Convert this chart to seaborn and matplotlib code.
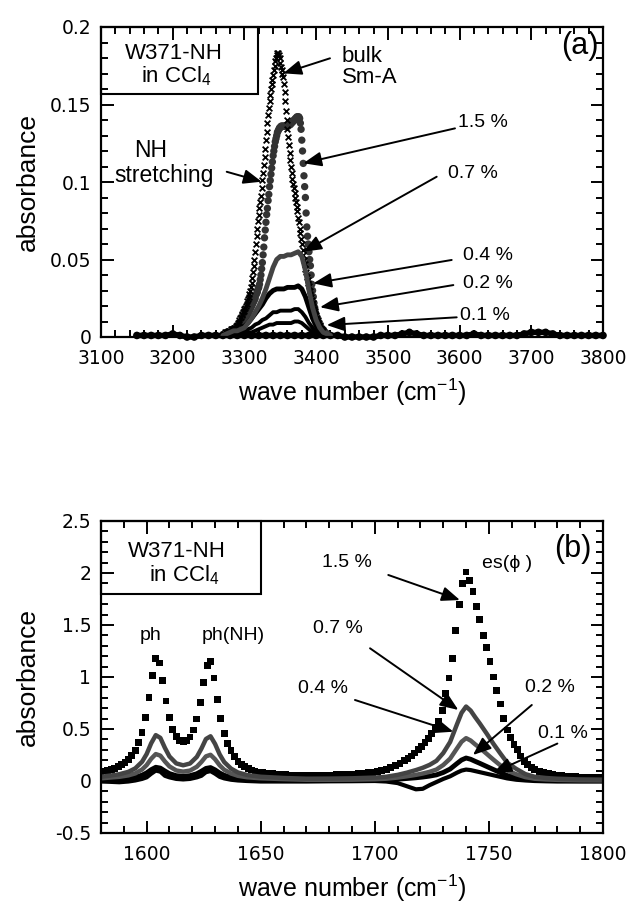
import numpy as np
import pandas as pd
import matplotlib
matplotlib.use("Agg")
import matplotlib.pyplot as plt
import seaborn as sns
from matplotlib.patches import Rectangle
from matplotlib.ticker import MultipleLocator, FuncFormatter

# ---------------- panel (a): NH stretching region ----------------
bulk_x = list(range(3270, 3411))
bulk_y = [.002, .002, .002, .003, .003, .003, .003, .004, .004, .004,
          .004, .005, .005, .005, .005, .006, .006, .006, .007, .007,
          .008, .009, .010, .011, .012, .013, .014, .015, .016, .017,
          .018, .019, .020, .0215, .023, .0245, .026, .028, .030, .032,
          .035, .038, .042, .046, .050, .055, .060, .065, .070, .075,
          .079, .083, .087, .091, .096, .101, .106, .111, .116, .121,
          .127, .132, .138, .143, .148, .152, .156, .160, .163, .166,
          .169, .172, .175, .178, .180, .182, .183, .183, .182, .180,
          .177, .174, .172, .170, .168, .163, .158, .152, .146, .140,
          .134, .129, .124, .119, .114, .110, .106, .102, .099, .096,
          .093, .090, .087, .084, .081, .077, .074, .070, .067, .063,
          .060, .056, .053, .050, .047, .044, .042, .039, .037, .035,
          .033, .030, .028, .026, .024, .022, .020, .018, .017, .015,
          .014, .012, .011, .010, .009, .008, .007, .006, .005, .0045,
          .004]

a15_x = list(range(3280, 3416))
a15_y = [.003, .003, .003, .004, .004, .004, .005, .005, .005, .006,
         .006, .007, .007, .008, .008, .009, .009, .010, .010, .011,
         .011, .012, .013, .013, .014, .015, .016, .017, .018, .019,
         .020, .021, .022, .023, .024, .025, .027, .028, .029, .031,
         .032, .034, .037, .040, .044, .048, .053, .058, .064, .069,
         .074, .079, .083, .088, .092, .097, .101, .105, .109, .113,
         .117, .120, .123, .126, .128, .130, .132, .133, .134, .135,
         .135, .136, .136, .136, .136, .136, .136, .136, .136, .136,
         .136, .136, .137, .137, .137, .138, .138, .139, .139, .140,
         .140, .141, .141, .142, .142, .142, .142, .141, .138, .134,
         .127, .120, .112, .104, .097, .090, .080, .071, .065, .060,
         .055, .050, .046, .040, .034, .030, .026, .022, .019, .016,
         .014, .012, .011, .009, .008, .007, .006, .005, .005, .004,
         .004, .003, .003, .003, .002, .002]

a_line_x = list(range(3270, 3421, 5))
a07_y = [.001, .002, .003, .004, .004, .005, .006, .009, .012, .016, .020,
         .025, .031, .038, .045, .050, .052, .052, .053, .053, .054, .055,
         .052, .043, .030, .019, .011, .006, .003, .002, .001]
a04_y = [.001, .001, .002, .003, .004, .005, .007, .009, .012, .015, .018,
         .021, .025, .028, .030, .031, .031, .031, .032, .032, .032, .033,
         .031, .026, .019, .012, .007, .004, .002, .001, .001]
a02_y = [.000, .001, .001, .001, .002, .003, .004, .005, .006, .008, .009,
         .011, .012, .014, .016, .016, .017, .017, .017, .017, .018, .018,
         .016, .013, .009, .006, .003, .002, .001, .001, .000]
a01_y = [.000, .000, .001, .001, .001, .002, .002, .003, .003, .004, .005,
         .006, .007, .008, .008, .009, .009, .009, .009, .009, .010, .010,
         .009, .007, .005, .003, .002, .001, .001, .000, .000]

a_base_x = list(range(3150, 3801, 10))
a_base_y = [.001, .001, .001, .001, .001, .002, .001, .000, .000, .001,
            .001, .001, .001, .001, .001, .001, .001, .001, .001, .001,
            .001, .001, .001, .001, .001, .001, .001, .001, .001, .000,
            .000, .000, .000, .000, .001, .001, .001, .002, .003, .002,
            .001, .001, .001, .001, .001, .001, .001, .002, .001, .001,
            .001, .001, .001, .001, .002, .003, .003, .003, .002, .001,
            .001, .001, .001, .001, .001, .001]

a_xticks = [3100, 3200, 3300, 3400, 3500, 3600, 3700, 3800]
a_yticks = [0, 0.05, 0.1, 0.15, 0.2]

# ---------------- panel (b): ph / ester region ----------------
b15_x = list(np.concatenate([np.arange(1580, 1649.6, 1.5), np.arange(1651, 1714, 2),
                             np.arange(1714.5, 1770.1, 1.5), np.arange(1772, 1801, 2)]))
b15_y = [.088, .097, .104, .113, .124, .138, .156, .177, .206, .243,
         .296, .368, .47, .613, .802, 1.015, 1.18, 1.135, .966, .769,
         .608, .497, .427, .39, .377, .388, .423, .49, .596, .753,
         .944, 1.108, 1.15, .99, .783, .599, .46, .36, .29, .235,
         .19, .16, .14, .12, .105, .095, .085,
         .08, .075, .07, .066, .063, .06, .058, .057, .056, .055,
         .055, .055, .055, .056, .057, .058, .059, .06, .062, .064,
         .067, .07, .074, .078, .083, .09, .098, .108, .13, .15, .17, .20,
         .22, .24, .27, .30, .33, .37, .41, .46, .52, .57,
         .68, .84, .99, 1.18, 1.45, 1.70, 1.90, 2.01, 1.93, 1.82,
         1.68, 1.55, 1.40, 1.28, 1.15, 1.00, .87, .74, .60, .49,
         .42, .35, .30, .24, .19, .155, .13, .11,
         .09, .08, .07, .06, .055, .05, .045, .04, .04, .035,
         .035, .035, .03, .03, .03]

b_line_x = [1580, 1584, 1588, 1592, 1595, 1598, 1600, 1602, 1604, 1606,
            1608, 1610, 1613, 1616, 1619, 1622, 1624, 1626, 1628, 1630,
            1632, 1634, 1637, 1640, 1644, 1650, 1660, 1670, 1680, 1690,
            1700, 1705, 1710, 1714, 1718, 1721, 1724, 1727, 1730, 1733,
            1736, 1738, 1740, 1742, 1744, 1746, 1749, 1752, 1755, 1758,
            1762, 1766, 1770, 1775, 1780, 1790, 1800]
b07_y = [.041, .052, .065, .088, .121, .185, .259, .363, .441, .415,
         .319, .236, .169, .151, .168, .232, .311, .404, .430, .356,
         .256, .182, .119, .082, .058, .041, .029, .022, .023, .026,
         .033, .041, .059, .080, .105, .127, .155, .194, .269, .375,
         .545, .655, .716, .677, .613, .553, .457, .357, .265, .176,
         .116, .066, .041, .029, .022, .015, .013]
b04_y = [.026, .033, .040, .054, .073, .110, .153, .214, .259, .244,
         .188, .140, .101, .090, .100, .137, .183, .237, .252, .209,
         .151, .108, .072, .050, .036, .026, .018, .012, .012, .013,
         .017, .022, .033, .045, .059, .072, .088, .110, .154, .215,
         .313, .377, .412, .389, .352, .318, .262, .205, .151, .100,
         .065, .037, .022, .015, .011, .007, .006]
b02_y = [.013, .017, .020, .027, .037, .056, .078, .109, .132, .124,
         .096, .071, .051, .046, .051, .070, .094, .121, .129, .107,
         .077, .055, .036, .025, .018, .013, .008, .006, .006, .007,
         .009, .011, .017, .024, .031, .038, .047, .059, .082, .115,
         .168, .202, .221, .209, .189, .170, .140, .110, .081, .053,
         .035, .019, .012, .008, .005, .003, .003]
b01_y = [-.005, -.008, -.012, -.005, .005, .02, .035, .07, .10, .09,
         .05, .035, .02, .015, .02, .035, .05, .085, .095, .07,
         .04, .025, .012, .005, 0, -.005, -.005, -.005, -.003, -.002,
         0, -.005, -.02, -.05, -.08, -.075, -.04, -.01, .02, .045,
         .08, .10, .11, .105, .095, .085, .07, .055, .04, .025,
         .012, .005, 0, -.003, -.005, -.005, -.005]

b_xticks = [1600, 1650, 1700, 1750, 1800]
b_yticks = [-0.5, 0, 0.5, 1, 1.5, 2, 2.5]

# ---------------- styling ----------------
sns.set_style("ticks")
plt.rcParams["font.family"] = ["DejaVu Sans"]
plt.rcParams["axes.unicode_minus"] = False
plt.rcParams["text.color"] = "black"
plt.rcParams["axes.labelcolor"] = "black"
plt.rcParams["xtick.color"] = "black"
plt.rcParams["ytick.color"] = "black"
plt.rcParams["mathtext.fontset"] = "custom"
plt.rcParams["mathtext.rm"] = "Liberation Sans"
plt.rcParams["mathtext.it"] = "Liberation Sans:italic"
plt.rcParams["mathtext.bf"] = "Liberation Sans:bold"

LAB = ["Liberation Sans", "DejaVu Sans"]
W, H = 626, 907
fig = plt.figure(figsize=(W / 100, H / 100), dpi=100)
ax1 = fig.add_axes([101 / W, 1 - 337 / H, 502 / W, 310 / H])
ax2 = fig.add_axes([101 / W, 1 - 833 / H, 502 / W, 312 / H])

fmt = FuncFormatter(lambda v, p: f"{v:g}")


def style_axes(ax, xlim, ylim, xt, yt, xminor, yminor):
    ax.set_xlim(*xlim)
    ax.set_ylim(*ylim)
    ax.set_xticks(xt)
    ax.set_yticks(yt)
    ax.xaxis.set_minor_locator(MultipleLocator(xminor))
    ax.yaxis.set_minor_locator(MultipleLocator(yminor))
    ax.xaxis.set_major_formatter(fmt)
    ax.yaxis.set_major_formatter(fmt)
    ax.tick_params(which="both", direction="in", top=True, right=True,
                   width=1.4, colors="k", labelsize=13.5, labelcolor="k")
    ax.tick_params(which="major", length=9)
    ax.tick_params(which="minor", length=5)
    ax.tick_params(axis="x", which="major", pad=9)
    ax.tick_params(axis="y", which="major", pad=7)
    for s in ax.spines.values():
        s.set_linewidth(1.6)
        s.set_color("k")
    ax.set_xlabel("wave number (cm$^{-1}$)", fontsize=18, family=LAB, color="k")
    ax.xaxis.set_label_coords(0.5, -55 / (ax.get_position().height * H))
    ax.xaxis.label.set_verticalalignment("center")
    ax.set_ylabel("absorbance", fontsize=19,
                  family=["Liberation Sans Narrow", "Liberation Sans"], color="k")
    ax.yaxis.set_label_coords(-(101 - 28) / 502, 0.5)
    ax.yaxis.label.set_verticalalignment("center")


def txt(ax, x, y, s, size=13.5, ha="center"):
    ax.text(x, y, s, fontsize=size, ha=ha, va="baseline", family=LAB,
            color="k", zorder=10)


def arrow(ax, start, tip):
    ax.annotate("", xy=tip, xytext=start, zorder=11,
                arrowprops=dict(arrowstyle="-|>,head_length=0.55,head_width=0.22",
                                mutation_scale=20, lw=1.4, color="k",
                                shrinkA=0, shrinkB=0))


# ---------------- panel (a) ----------------
sns.lineplot(x=a_base_x, y=a_base_y, ax=ax1, color="k", lw=4, clip_on=False,
             estimator=None, sort=False)
sns.scatterplot(x=a_base_x, y=a_base_y, ax=ax1, color="k", s=30, marker="o",
                edgecolor="none", clip_on=False)
sns.lineplot(x=a_line_x, y=a01_y, ax=ax1, color="k", lw=2.8, estimator=None, sort=False)
sns.lineplot(x=a_line_x, y=a02_y, ax=ax1, color="k", lw=2.8, estimator=None, sort=False)
sns.lineplot(x=a_line_x, y=a04_y, ax=ax1, color="k", lw=3.5, estimator=None, sort=False)
sns.lineplot(x=a_line_x, y=a07_y, ax=ax1, color="#444444", lw=3.5, estimator=None, sort=False)
sns.scatterplot(x=a15_x, y=a15_y, ax=ax1, color="#333333", s=28, marker="o",
                edgecolor="none")
sns.scatterplot(x=bulk_x, y=bulk_y, ax=ax1, color="k", s=17, marker="x", linewidth=1.3)

ax1.add_patch(Rectangle((3100, 0.1566), 219, 0.0434, fill=False, lw=1.5, ec="k",
                        zorder=9, clip_on=False))
txt(ax1, 3202, 0.1792, "W371-NH", 16)
txt(ax1, 3205.5, 0.1641, "in CCl$_4$", 16)
txt(ax1, 3794, 0.1825, "(a)", 22, ha="right")
txt(ax1, 3435.6, 0.1776, "bulk", 16, ha="left")
txt(ax1, 3435.6, 0.1637, "Sm-A", 16, ha="left")
arrow(ax1, (3419.3, 0.1798), (3354.2, 0.1701))
txt(ax1, 3169.5, 0.1159, "NH", 16.5)
txt(ax1, 3188, 0.1002, "stretching", 16.5)
arrow(ax1, (3275.3, 0.1066), (3324.1, 0.1002))
txt(ax1, 3633, 0.1357, "1.5 %", 14)
arrow(ax1, (3593.6, 0.1346), (3382.1, 0.1121))
txt(ax1, 3619.2, 0.1024, "0.7 %", 14)
arrow(ax1, (3568.1, 0.1034), (3382.1, 0.0550))
txt(ax1, 3640, 0.0497, "0.4 %", 14)
arrow(ax1, (3589, 0.0497), (3396, 0.0346))
txt(ax1, 3640, 0.0314, "0.2 %", 14)
arrow(ax1, (3591.3, 0.0335), (3405.4, 0.0192))
txt(ax1, 3635.5, 0.0110, "0.1 %", 14)
arrow(ax1, (3596, 0.0127), (3414.7, 0.0077))

style_axes(ax1, (3100, 3800), (0, 0.2), a_xticks, a_yticks, 20, 0.01)

# ---------------- panel (b) ----------------
sns.lineplot(x=b_line_x, y=b01_y, ax=ax2, color="k", lw=3, estimator=None, sort=False)
sns.lineplot(x=b_line_x, y=b02_y, ax=ax2, color="k", lw=3.5, estimator=None, sort=False)
sns.lineplot(x=b_line_x, y=b04_y, ax=ax2, color="#555555", lw=3.2, estimator=None, sort=False)
sns.lineplot(x=b_line_x, y=b07_y, ax=ax2, color="#444444", lw=3.2, estimator=None, sort=False)
sns.scatterplot(x=b15_x, y=b15_y, ax=ax2, color="k", s=24, marker="s", edgecolor="none")

ax2.add_patch(Rectangle((1580, 1.798), 70, 0.702, fill=False, lw=1.5, ec="k",
                        zorder=9, clip_on=False))
txt(ax2, 1613.2, 2.151, "W371-NH", 16)
txt(ax2, 1616.4, 1.916, "in CCl$_4$", 16)
txt(ax2, 1795, 2.15, "(b)", 22, ha="right")
txt(ax2, 1601.8, 1.356, "ph", 14)
txt(ax2, 1638, 1.356, "ph(NH)", 14)
txt(ax2, 1758.1, 2.045, "es(ϕ )", 14)
txt(ax2, 1687.7, 2.06, "1.5 %", 14)
arrow(ax2, (1705.9, 1.981), (1737.3, 1.74))
txt(ax2, 1684, 1.42, "0.7 %", 14)
arrow(ax2, (1697.9, 1.276), (1736.6, 0.683))
txt(ax2, 1677.4, 0.843, "0.4 %", 14)
arrow(ax2, (1691.3, 0.779), (1734.4, 0.474))
txt(ax2, 1776.8, 0.859, "0.2 %", 14)
arrow(ax2, (1768.8, 0.731), (1743, 0.25))
txt(ax2, 1782.6, 0.41, "0.1 %", 14)
arrow(ax2, (1780, 0.36), (1752, 0.08))

style_axes(ax2, (1580, 1800), (-0.5, 2.5), b_xticks, b_yticks, 10, 0.1)

for ax in (ax1, ax2):
    leg = ax.get_legend()
    if leg:
        leg.remove()

fig.savefig("out.png", dpi=100)
